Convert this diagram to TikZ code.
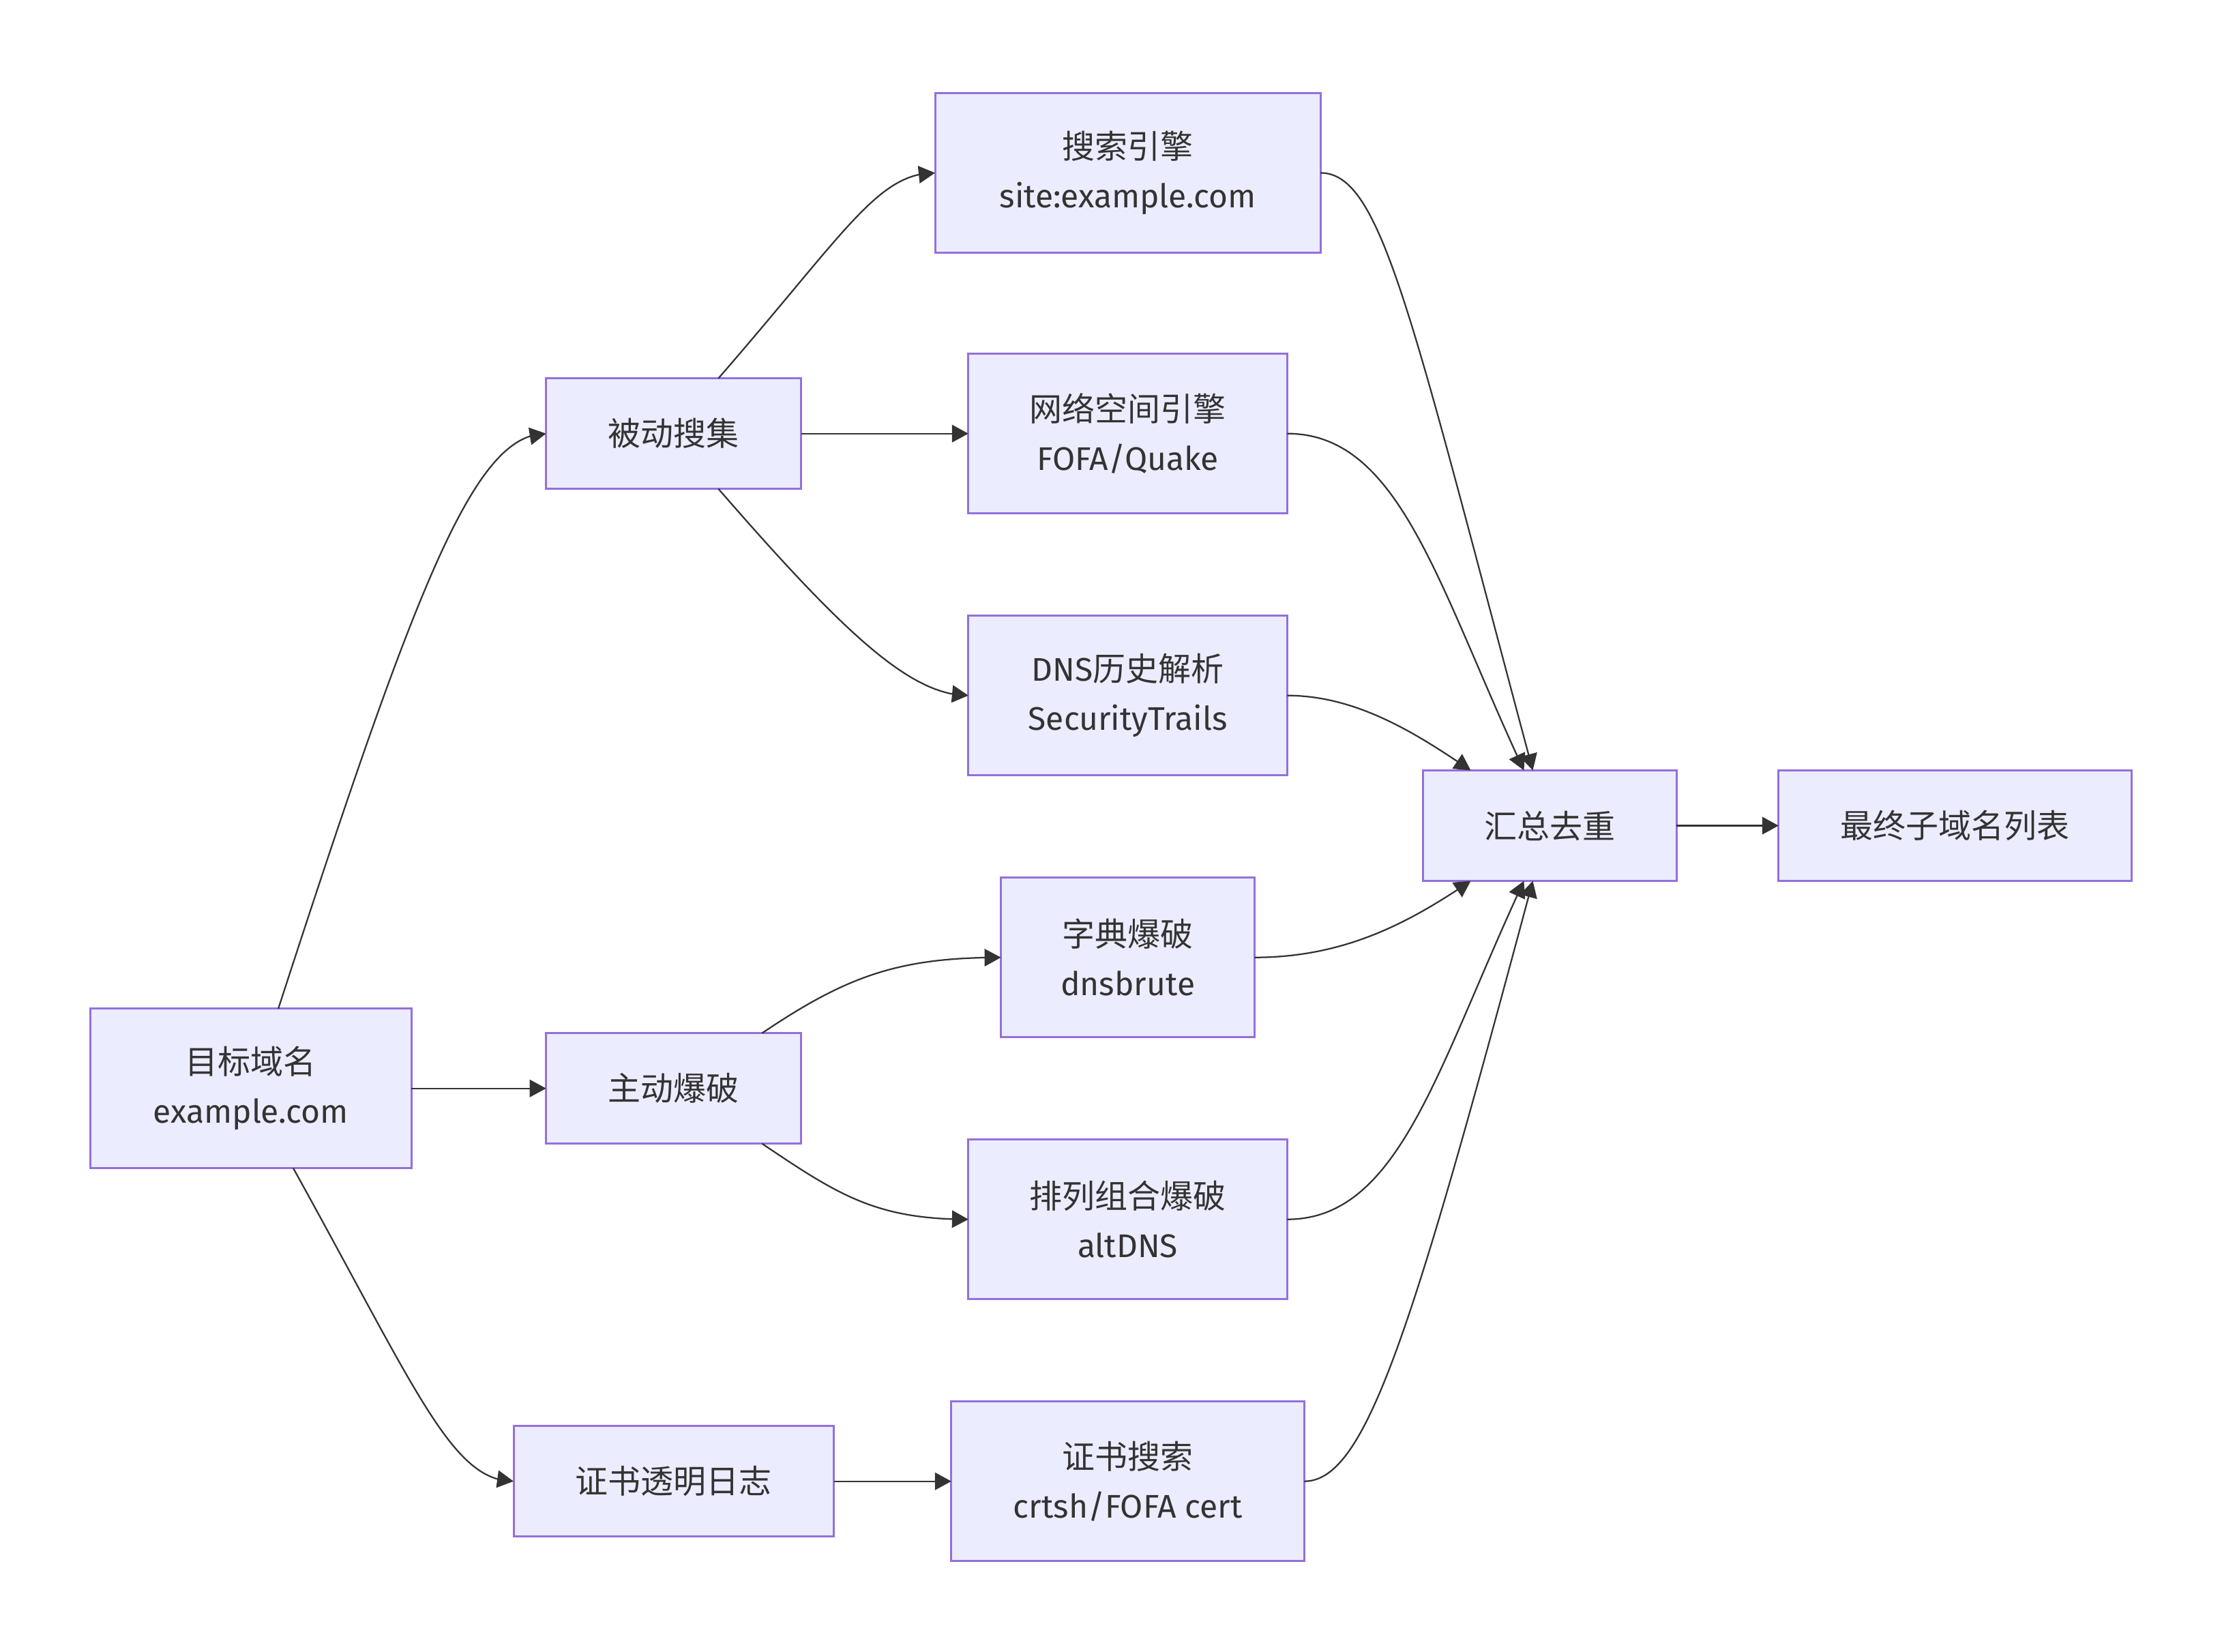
\documentclass[tikz,border=0pt]{standalone}
\usepackage{fontspec}
\setmainfont{Fira Sans}
\newfontfamily\cjk{Noto Sans CJK SC}
\usetikzlibrary{positioning,arrows.meta,bending}
\definecolor{boxfill}{HTML}{ECECFF}
\definecolor{boxline}{HTML}{9370DB}
\definecolor{ink}{HTML}{333333}
\tikzstyle{box} = [rectangle, draw=boxline, fill=boxfill, line width=1pt, text=ink, align=center, inner sep=0pt, outer sep=0pt, minimum height=54pt]
\tikzstyle{tall} = [minimum height=78pt]
\tikzstyle{link} = [draw=ink, line width=0.75pt, -{Triangle[length=8pt,width=8.5pt]}]

\begin{document}
\begin{tikzpicture}[x=1pt, y=1pt, font=\fontsize{16}{24}\selectfont]
	\path[use as bounding box, fill=white] (0,0) rectangle (1086,-807.3);
	\node[box, tall, minimum width=157pt] (target) at (122.6,-531.9) {{\cjk 目标域名}\\example.com};
	\node[box, minimum width=124.7pt, right=65.8pt of target] (active) {\cjk 主动爆破};
	\node[box, minimum width=124.7pt, above=266pt of active] (passive) {\cjk 被动搜集};
	\node[box, minimum width=156.5pt, below=138pt of active] (ctlog) {\cjk 证书透明日志};
	\node[box, tall, minimum width=155.8pt, right=81.7pt of passive] (space) {{\cjk 网络空间引擎}\\FOFA/Quake};
	\node[box, tall, minimum width=188.4pt, above=49.4pt of space] (search) {{\cjk 搜索引擎}\\site:example.com};
	\node[box, tall, minimum width=155.8pt, below=50pt of space] (dnshist) {DNS{\cjk 历史解析}\\SecurityTrails};
	\node[box, tall, minimum width=124pt, below=50pt of dnshist] (dict) {{\cjk 字典爆破}\\dnsbrute};
	\node[box, tall, minimum width=155.8pt, below=50pt of dict] (perm) {{\cjk 排列组合爆破}\\altDNS};
	\node[box, tall, minimum width=172.5pt, below=50pt of perm] (certs) {{\cjk 证书搜索}\\crtsh/FOFA cert};
	\node[box, minimum width=124pt] (merge) at (757.4,-403.5) {\cjk 汇总去重};
	\node[box, minimum width=172.5pt, right=49.9pt of merge] (final) {\cjk 最终子域名列表};
	% left half
	\draw[link] (target.71) to[out=72, in=180, out distance=220pt, in distance=35pt] (passive.west);
	\draw[link] (target.east) -- (active.west);
	\draw[link] (target.-62) to[out=-61, in=180, out distance=125pt, in distance=30pt] (ctlog.west);
	\draw[link] (passive.51) to[out=49, in=180, out distance=95pt, in distance=28pt] (search.west);
	\draw[link] (passive.east) -- (space.west);
	\draw[link] (passive.-51) to[out=-49, in=180, out distance=95pt, in distance=28pt] (dnshist.west);
	\draw[link] (active.32) to[out=34, in=180, out distance=50pt, in distance=50pt] (dict.west);
	\draw[link] (active.-32) to[out=-34, in=180, out distance=45pt, in distance=45pt] (perm.west);
	\draw[link] (ctlog.east) -- (certs.west);
	% right half
	\draw[link] (search.east) to[out=0, in=105, out distance=30pt, in distance=230pt] (merge.107);
	\draw[link] (space.east) to[out=0, in=115, out distance=55pt, in distance=100pt] (merge.115);
	\draw[link] (dnshist.east) to[out=0, in=146, out distance=35pt, in distance=30pt] (merge.145);
	\draw[link] (dict.east) to[out=0, in=-146, out distance=45pt, in distance=35pt] (merge.-145);
	\draw[link] (perm.east) to[out=0, in=-115, out distance=55pt, in distance=100pt] (merge.-115);
	\draw[link] (certs.east) to[out=0, in=-105, out distance=30pt, in distance=230pt] (merge.-107);
	\draw[link] (merge.east) -- (final.west);
\end{tikzpicture}
\end{document}
